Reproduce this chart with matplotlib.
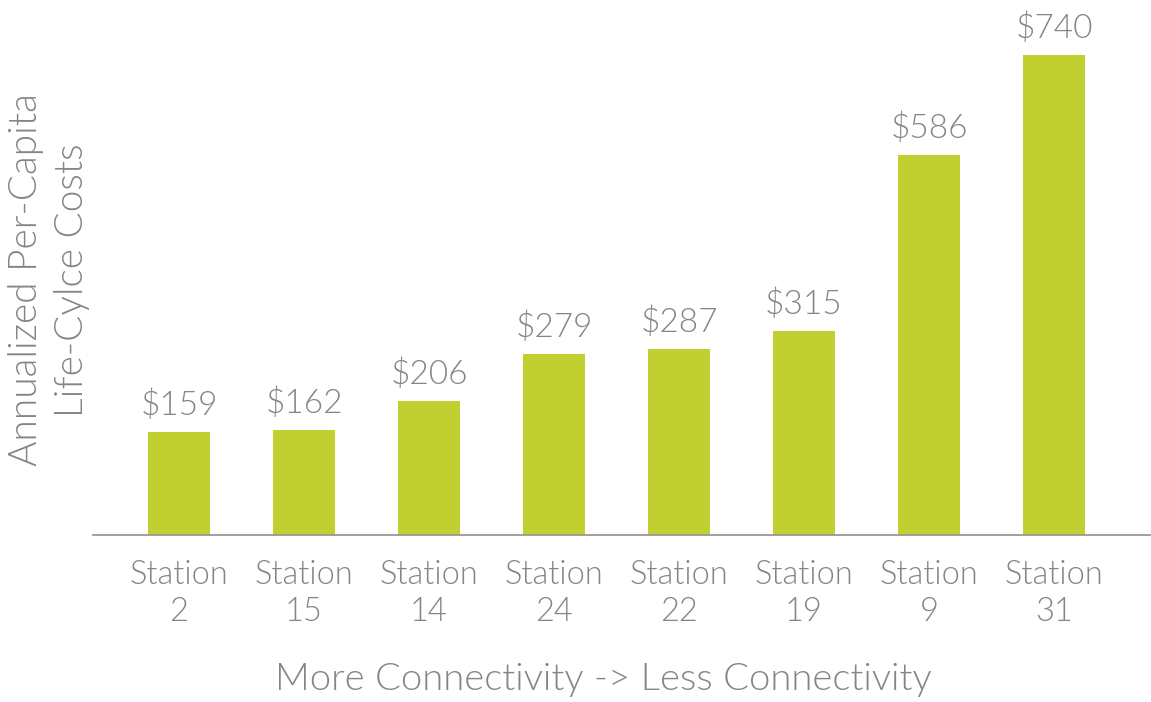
import matplotlib.pyplot as plt

stations = ["Station\n2", "Station\n15", "Station\n14", "Station\n24",
            "Station\n22", "Station\n19", "Station\n9", "Station\n31"]
costs = [159, 162, 206, 279, 287, 315, 586, 740]

bar_color = "#c1cf30"
text_color = "#858585"

plt.rcParams['font.family'] = ['Lato', 'DejaVu Sans']
plt.rcParams['font.weight'] = 300

fig = plt.figure(figsize=(11.51, 7.02), dpi=100)
ax = fig.add_axes([93 / 1151, 1 - 535 / 702, (1150 - 93) / 1151, 535 / 702])

x = range(len(costs))
bars = ax.bar(x, costs, width=0.5, color=bar_color)

for b, v in zip(bars, costs):
    ax.annotate("$" + str(v), (b.get_x() + b.get_width() / 2, v),
                xytext=(0, 8), textcoords="offset points",
                ha="center", va="bottom", fontsize=24, color=text_color,
                fontweight=300)

ax.set_xlim(-0.688, 7.768)
ax.set_ylim(0, 825)
ax.set_xticks(list(x))
ax.set_xticklabels(stations, fontsize=23.5, color=text_color, fontweight=300,
                   linespacing=1.28)
ax.tick_params(axis="x", length=0, pad=18)
ax.set_yticks([])
for s in ["top", "right", "left"]:
    ax.spines[s].set_visible(False)
ax.spines["bottom"].set_color("#999999")
ax.spines["bottom"].set_linewidth(1.3)

fig.text(603 / 1151, 1 - 680 / 702, "More Connectivity -> Less Connectivity",
         ha="center", va="center", fontsize=27.5, color=text_color, fontweight=300)
fig.text(49 / 1151, 1 - 280 / 702, "Annualized Per-Capita\nLife-Cylce Costs",
         ha="center", va="center", rotation=90, fontsize=28, color=text_color,
         fontweight=300, linespacing=1.35)

fig.savefig("out.png", dpi=100)
